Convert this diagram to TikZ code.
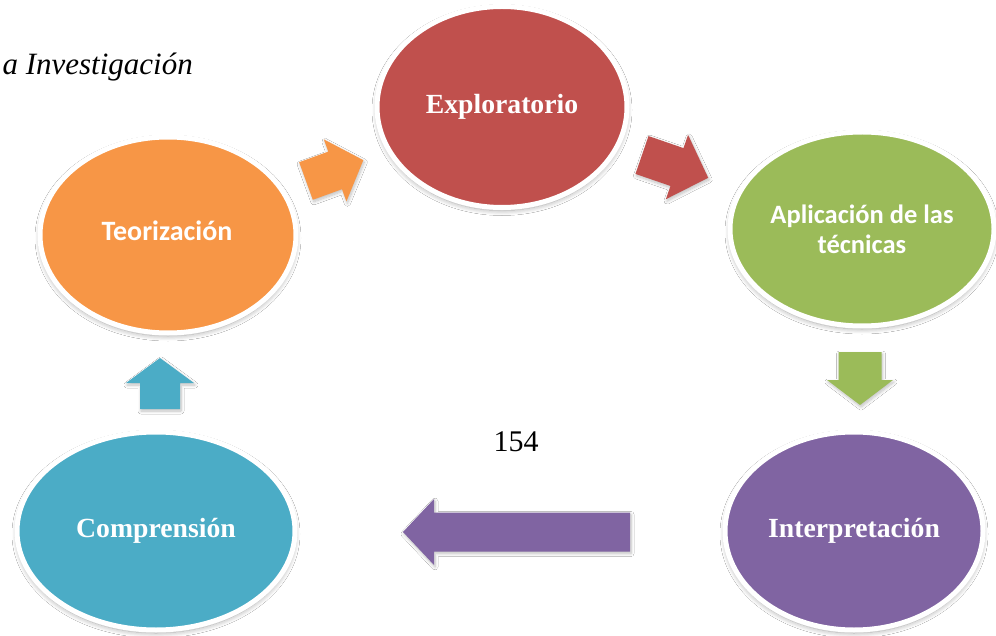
\documentclass[tikz,border=0pt]{standalone}
\usepackage{fontspec}
\setmainfont{Liberation Serif}
\newfontfamily\calib{Carlito}
\usetikzlibrary{shapes.geometric,shadows.blur}
\definecolor{cred}{HTML}{C0504D}
\definecolor{corange}{HTML}{F79646}
\definecolor{cgreen}{HTML}{9BBB59}
\definecolor{cpurple}{HTML}{8064A2}
\definecolor{cteal}{HTML}{4BACC6}
\tikzset{
  bubble/.style={ellipse, draw=white, line width=5pt, inner sep=0pt, text=white, align=center,
    blur shadow={shadow xshift=0pt, shadow yshift=-3pt, shadow blur steps=10, shadow blur radius=5pt, shadow opacity=35}},
  serifbold/.style={font=\fontsize{27.7}{30}\selectfont\bfseries},
  sansbold/.style={font=\calib\fontsize{26.5}{30}\selectfont\bfseries},
  arrowshadow/.style={blur shadow={shadow xshift=1pt, shadow yshift=-2pt, shadow blur steps=8, shadow blur radius=3pt, shadow opacity=25}}
}
\newcommand\blockarr[8]{%
  \fill[#1, arrowshadow, shift={(#2,#3)}, rotate=#4]
    (0,-#7) -- (#6,-#7) -- (#6,-#8) -- (#5,0) -- (#6,#8) -- (#6,#7) -- (0,#7) -- cycle;}
\begin{document}
\begin{tikzpicture}[x=1pt,y=-1pt]
\useasboundingbox (0,0) rectangle (996,636);
\fill[white] (0,0) rectangle (996,636);
% title and page number
\node[anchor=base east, inner sep=0pt, font=\fontsize{31}{34}\selectfont\itshape] (title) at (193,75) {a Investigación};
\node[anchor=base, inner sep=0pt, font=\fontsize{30}{33}\selectfont] (page) at (516,451) {154};
% ellipses
\node[bubble, fill=cred, minimum width=250pt, minimum height=201pt, serifbold] (expl) at (502,107) {Exploratorio};
\node[bubble, fill=corange, minimum width=256pt, minimum height=196pt] (teor) at (168,235) {};
\node[text=white, font=\calib\fontsize{28}{30}\selectfont\bfseries] (teorlabel) at (167,231) {Teorización};
\node[bubble, fill=cgreen, minimum width=264pt, minimum height=194pt, sansbold] (apli) at (862,229) {Aplicación de las\\técnicas};
\node[bubble, fill=cpurple, minimum width=258pt, minimum height=198pt, serifbold] (interp) at (854,531) {Interpretación};
\node[bubble, fill=cteal, minimum width=278pt, minimum height=198pt, serifbold] (compr) at (156,531) {Comprensión};
% block arrows: color, tail x, tail y, angle, length, head start, half shaft, half head
\blockarr{corange}{306}{181}{20}{61}{31}{20}{33}
\blockarr{cred}{642}{155}{-19}{70}{37}{20}{34}
\blockarr{cgreen}{860}{352}{-90}{53}{28}{21.5}{33}
\blockarr{cpurple}{630}{532}{180}{227}{196}{19.5}{33}
\blockarr{cteal}{160}{409}{90}{51}{26}{20}{34}
\end{tikzpicture}
\end{document}
